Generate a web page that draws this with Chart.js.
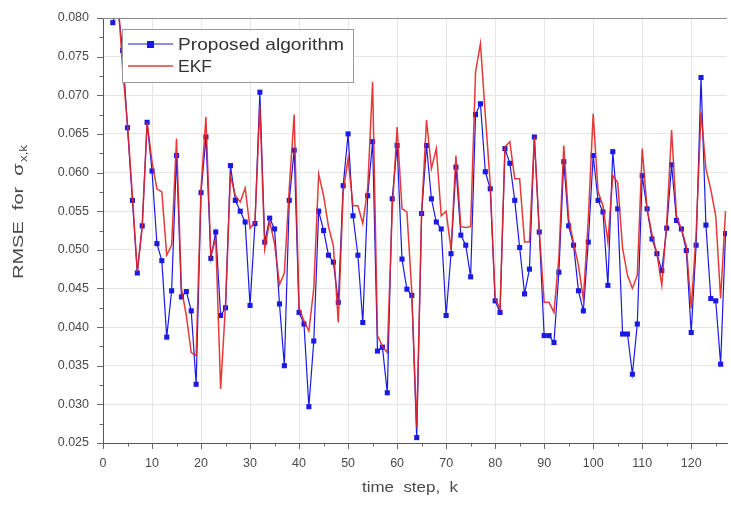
<!DOCTYPE html>
<html>
<head>
<meta charset="utf-8">
<script src="https://cdn.jsdelivr.net/npm/chart.js@4.4.1/dist/chart.umd.min.js"></script>
<style>
html,body{margin:0;padding:0;background:#fff;}
#c{display:block;}
</style>
</head>
<body>
<canvas id="c" width="731" height="512"></canvas>
<script>
const steps = [2,3,4,5,6,7,8,9,10,11,12,13,14,15,16,17,18,19,20,21,22,23,24,25,26,27,28,29,30,31,32,33,34,35,36,37,38,39,40,41,42,43,44,45,46,47,48,49,50,51,52,53,54,55,56,57,58,59,60,61,62,63,64,65,66,67,68,69,70,71,72,73,74,75,76,77,78,79,80,81,82,83,84,85,86,87,88,89,90,91,92,93,94,95,96,97,98,99,100,101,102,103,104,105,106,107,108,109,110,111,112,113,114,115,116,117,118,119,120,121,122,123,124,125,126,127];

const proposed = [0.0794,0.0815,0.0758,0.0658,0.0564,0.0470,0.0531,0.0665,0.0602,0.0508,0.0486,0.0387,0.0447,0.0622,0.0439,0.0446,0.0421,0.0326,0.0574,0.0646,0.0489,0.0523,0.0415,0.0425,0.0609,0.0564,0.0550,0.0536,0.0428,0.0534,0.0704,0.0510,0.0541,0.0527,0.0430,0.0350,0.0564,0.0629,0.0419,0.0404,0.0297,0.0382,0.0550,0.0525,0.0493,0.0484,0.0432,0.0583,0.0650,0.0544,0.0493,0.0406,0.0570,0.0640,0.0369,0.0374,0.0315,0.0566,0.0635,0.0488,0.0449,0.0441,0.0257,0.0547,0.0635,0.0566,0.0536,0.0527,0.0415,0.0495,0.0607,0.0519,0.0506,0.0465,0.0675,0.0689,0.0601,0.0579,0.0434,0.0419,0.0631,0.0612,0.0564,0.0503,0.0443,0.0475,0.0646,0.0523,0.0389,0.0389,0.0380,0.0471,0.0614,0.0531,0.0506,0.0447,0.0421,0.0510,0.0622,0.0564,0.0549,0.0454,0.0627,0.0553,0.0391,0.0391,0.0339,0.0404,0.0596,0.0553,0.0514,0.0495,0.0473,0.0528,0.0610,0.0538,0.0527,0.0499,0.0393,0.0506,0.0723,0.0532,0.0437,0.0434,0.0352,0.0521];

const ekf = [0.0810,0.0830,0.0735,0.0662,0.0570,0.0472,0.0530,0.0665,0.0614,0.0579,0.0575,0.0493,0.0506,0.0644,0.0450,0.0415,0.0367,0.0363,0.0580,0.0672,0.0493,0.0514,0.0320,0.0430,0.0596,0.0570,0.0562,0.0580,0.0528,0.0535,0.0687,0.0501,0.0537,0.0508,0.0455,0.0470,0.0580,0.0675,0.0425,0.0408,0.0395,0.0450,0.0598,0.0570,0.0530,0.0505,0.0406,0.0575,0.0618,0.0557,0.0557,0.0534,0.0580,0.0717,0.0389,0.0375,0.0367,0.0550,0.0659,0.0553,0.0549,0.0445,0.0270,0.0549,0.0668,0.0605,0.0631,0.0544,0.0550,0.0500,0.0622,0.0530,0.0529,0.0530,0.0730,0.0767,0.0674,0.0585,0.0437,0.0424,0.0633,0.0640,0.0592,0.0592,0.0510,0.0510,0.0646,0.0525,0.0432,0.0432,0.0419,0.0490,0.0635,0.0540,0.0509,0.0480,0.0436,0.0540,0.0676,0.0575,0.0557,0.0510,0.0596,0.0587,0.0502,0.0467,0.0450,0.0467,0.0631,0.0553,0.0520,0.0495,0.0454,0.0535,0.0655,0.0544,0.0527,0.0505,0.0424,0.0520,0.0678,0.0605,0.0578,0.0544,0.0437,0.0550];

const seriesNames = ['Proposed algorithm', 'EKF'];
const xTitle = 'time  step,  k';
const yTitle = 'RMSE  for  σ';
const ySub = 'x,k';

const BLUE = '#1a1ae6';
const RED = 'rgba(228,36,36,0.9)';
const TXT = '#4a4a4a';
const FONT = '"Liberation Sans", Arial, sans-serif';

const toXY = vals => steps.map((k, i) => ({x: k, y: vals[i]}));

const isMajorX = v => Math.abs(v / 10 - Math.round(v / 10)) < 1e-6;
const isMajorY = v => Math.abs(v * 200 - Math.round(v * 200)) < 1e-6;

function fitText(ctx, text, x, y, width) {
  const w = ctx.measureText(text).width;
  const sx = width / w;
  ctx.save();
  ctx.translate(x, y);
  ctx.scale(sx, 1);
  ctx.fillText(text, 0, 0);
  ctx.restore();
}

const decor = {
  id: 'decor',
  afterDraw(chart) {
    const ctx = chart.ctx;
    const a = chart.chartArea;
    const xs = chart.scales.x, ys = chart.scales.y;
    ctx.save();
    // top frame line
    ctx.strokeStyle = '#8a8a8a';
    ctx.lineWidth = 1;
    ctx.beginPath();
    ctx.moveTo(a.left, a.top + 0.5);
    ctx.lineTo(a.right, a.top + 0.5);
    ctx.stroke();

    // tick marks (major long, minor short)
    ctx.strokeStyle = '#666';
    ctx.lineWidth = 1;
    ctx.beginPath();
    xs.ticks.forEach(t => {
      const px = Math.round(xs.getPixelForValue(t.value)) + 0.5;
      const len = isMajorX(t.value) ? 6 : 3.5;
      ctx.moveTo(px, a.bottom);
      ctx.lineTo(px, a.bottom + len);
    });
    ys.ticks.forEach(t => {
      const py = Math.round(ys.getPixelForValue(t.value)) + 0.5;
      const len = isMajorY(t.value) ? 6 : 3.5;
      ctx.moveTo(a.left, py);
      ctx.lineTo(a.left - len, py);
    });
    ctx.stroke();

    // legend
    const lx = 122, ly = 29, lw = 231, lh = 53;
    ctx.fillStyle = '#fff';
    ctx.fillRect(lx, ly, lw, lh);
    ctx.strokeStyle = '#9a9a9a';
    ctx.strokeRect(lx + 0.5, ly + 0.5, lw, lh);
    ctx.font = '17px ' + FONT;
    ctx.textBaseline = 'middle';
    ctx.textAlign = 'left';
    ctx.strokeStyle = BLUE;
    ctx.lineWidth = 1.2;
    ctx.beginPath(); ctx.moveTo(128, 44); ctx.lineTo(173, 44); ctx.stroke();
    ctx.fillStyle = BLUE;
    ctx.fillRect(147, 41, 7, 7);
    ctx.fillStyle = '#333';
    fitText(ctx, seriesNames[0], 178, 45, 166);
    ctx.strokeStyle = RED;
    ctx.lineWidth = 1.5;
    ctx.beginPath(); ctx.moveTo(128, 66); ctx.lineTo(173, 66); ctx.stroke();
    ctx.fillStyle = '#333';
    fitText(ctx, seriesNames[1], 178, 67, 34);

    // x title
    ctx.font = '15px ' + FONT;
    ctx.fillStyle = TXT;
    ctx.textAlign = 'left';
    fitText(ctx, xTitle, 362, 488, 96);

    // y title
    ctx.translate(19, 212);
    ctx.rotate(-Math.PI / 2);
    ctx.font = '15px ' + FONT;
    const w1 = ctx.measureText(yTitle).width;
    ctx.font = '10px ' + FONT;
    const w2 = ctx.measureText(ySub).width;
    const tot = w1 + w2 + 1;
    const sx = 134 / tot;
    ctx.scale(sx, 1);
    ctx.textAlign = 'left';
    ctx.font = '15px ' + FONT;
    ctx.fillText(yTitle, -tot / 2, 0);
    ctx.font = '10px ' + FONT;
    ctx.fillText(ySub, -tot / 2 + w1 + 1, 5);
    ctx.restore();
  }
};

new Chart(document.getElementById('c'), {
  type: 'line',
  data: {
    datasets: [
      {
        label: seriesNames[0],
        data: toXY(proposed),
        borderColor: BLUE,
        backgroundColor: BLUE,
        borderWidth: 1.2,
        pointStyle: 'rect',
        pointRadius: 3.6,
        pointBorderWidth: 0,
        tension: 0,
        order: 2
      },
      {
        label: seriesNames[1],
        data: toXY(ekf),
        borderColor: RED,
        backgroundColor: RED,
        borderWidth: 1.5,
        pointRadius: 0,
        tension: 0,
        order: 1
      }
    ]
  },
  options: {
    responsive: false,
    animation: false,
    layout: {padding: {top: 18, right: 0, left: 0, bottom: 0}},
    plugins: {legend: {display: false}, tooltip: {enabled: false}},
    scales: {
      x: {
        type: 'linear',
        min: 0,
        max: 127.3,
        afterFit: s => { s.height = 69; s.paddingLeft = 0; s.paddingRight = 0; },
        ticks: {
          stepSize: 5,
          includeBounds: false,
          autoSkip: false,
          maxRotation: 0,
          padding: 13,
          color: TXT,
          font: {family: FONT, size: 12.5},
          callback: v => isMajorX(v) ? String(v) : ''
        },
        grid: {
          color: c => isMajorX(c.tick.value) ? '#e6e6e6' : 'rgba(0,0,0,0)',
          drawTicks: false,
          lineWidth: 1
        },
        border: {color: '#555', width: 1}
      },
      y: {
        type: 'linear',
        min: 0.025,
        max: 0.080,
        afterFit: s => { s.width = 103; s.paddingTop = 0; s.paddingBottom = 0; },
        ticks: {
          stepSize: 0.0025,
          includeBounds: false,
          autoSkip: false,
          padding: 14,
          color: TXT,
          font: {family: FONT, size: 12.5},
          callback: v => isMajorY(v) ? v.toFixed(3) : ''
        },
        grid: {
          color: c => isMajorY(c.tick.value) ? '#e6e6e6' : 'rgba(0,0,0,0)',
          drawTicks: false,
          lineWidth: 1
        },
        border: {color: '#555', width: 1}
      }
    }
  },
  plugins: [decor]
});
</script>
</body>
</html>
